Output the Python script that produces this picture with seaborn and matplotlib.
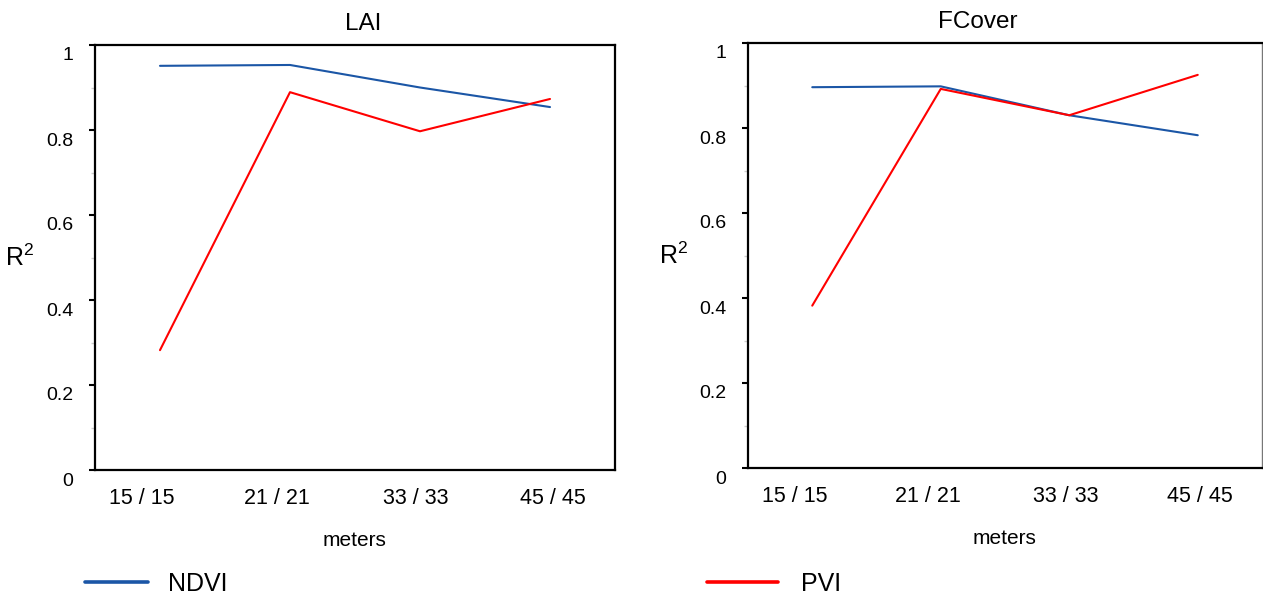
#!/usr/bin/env python3
# coding: utf-8

import seaborn as sns
import matplotlib
from matplotlib import pyplot as plt
from matplotlib.transforms import ScaledTranslation
import pandas as pd

sns.set_style("white")
matplotlib.rcParams['font.family'] = ['Liberation Sans', 'DejaVu Sans']
matplotlib.rcParams['mathtext.fontset'] = 'custom'
matplotlib.rcParams['mathtext.rm'] = 'Liberation Sans'
for key in ['text.color', 'axes.labelcolor', 'xtick.color', 'ytick.color']:
    matplotlib.rcParams[key] = 'black'

# data
sizes = ["15 / 15", "21 / 21", "33 / 33", "45 / 45"]
lai_ndvi = [0.951, 0.953, 0.900, 0.854]
lai_pvi = [0.282, 0.889, 0.797, 0.873]
fcover_ndvi = [0.896, 0.898, 0.830, 0.783]
fcover_pvi = [0.382, 0.892, 0.830, 0.925]

colors = {"NDVI": "#1b56a6", "PVI": "#ff0000"}
label_shift = [-0.14, -0.10, -0.03, 0.02]  # tick names sit a bit off centre in the original


def long_df(ndvi, pvi):
    return pd.DataFrame({
        "meters": sizes * 2,
        "R2": ndvi + pvi,
        "index": ["NDVI"] * len(sizes) + ["PVI"] * len(sizes),
    })


fig = plt.figure(figsize=[12.63, 5.98], dpi=100)
ax1 = fig.add_axes([95 / 1263, 128 / 598, 520 / 1263, 425 / 598])
ax2 = fig.add_axes([748 / 1263, 130 / 598, 514 / 1263, 425 / 598])

panels = [(ax1, "LAI", 0.515, long_df(lai_ndvi, lai_pvi)),
          (ax2, "FCover", 0.447, long_df(fcover_ndvi, fcover_pvi))]

for ax, title, tx, df in panels:
    sns.lineplot(data=df, x="meters", y="R2", hue="index", palette=colors,
                 linewidth=1.5, legend=False, ax=ax)
    ax.set_xlim(-0.5, 3.5)
    ax.set_ylim(0, 1)
    # category boundaries as ticks, names in between
    ax.set_xticks([-0.5, 0.5, 1.5, 2.5, 3.5], labels=[""] * 5)
    ax.set_xticks([i + s for i, s in enumerate(label_shift)], labels=sizes, minor=True)
    ax.tick_params(axis="x", which="major", direction="out", length=5, width=1.5, color="black")
    ax.tick_params(axis="x", which="minor", length=0, pad=13, labelsize=15.5)
    ax.set_yticks([0, 0.2, 0.4, 0.6, 0.8, 1.0], labels=["0", "0.2", "0.4", "0.6", "0.8", "1"])
    ax.set_yticks([0.1, 0.3, 0.5, 0.7, 0.9], minor=True)
    ax.tick_params(axis="y", which="major", direction="out", length=4, width=1.5,
                   color="black", pad=11.5, labelsize=14, left=True)
    ax.tick_params(axis="y", which="minor", direction="out", length=3, width=1,
                   color="#cccccc", left=True)
    off = ScaledTranslation(0, -9 / 100, fig.dpi_scale_trans)
    for lbl in ax.get_yticklabels():
        lbl.set_transform(lbl.get_transform() + off)
    for sp in ax.spines.values():
        sp.set_visible(True)
        sp.set_color("black")
        sp.set_linewidth(1.6)
    ax.set_title(title, fontsize=17.5, x=tx, pad=11)
    ax.set_xlabel("meters", fontsize=15, labelpad=16)
    ax.set_ylabel("R$^{2}$", fontsize=18, rotation=0, va="center", ha="center")
    ax.yaxis.set_label_coords(-0.145, 0.5)

ax2.spines["right"].set_color("#777777")
ax2.spines["right"].set_linewidth(1)

# legends below each panel
ndvi_line = ax1.get_lines()[0]
pvi_line = ax2.get_lines()[1]
leg1 = fig.legend(handles=[ndvi_line], labels=["NDVI"], loc="center left",
                  bbox_to_anchor=(85 / 1263, 14 / 598), frameon=False, fontsize=18,
                  borderpad=0, borderaxespad=0, handlelength=2.5, handletextpad=0.8)
leg2 = fig.legend(handles=[pvi_line], labels=["PVI"], loc="center left",
                  bbox_to_anchor=(707 / 1263, 14 / 598), frameon=False, fontsize=18,
                  borderpad=0, borderaxespad=0, handlelength=2.85, handletextpad=0.9)
for leg in (leg1, leg2):
    for ln in leg.get_lines():
        ln.set_linewidth(2.6)

plt.savefig("out.png", dpi=100)
